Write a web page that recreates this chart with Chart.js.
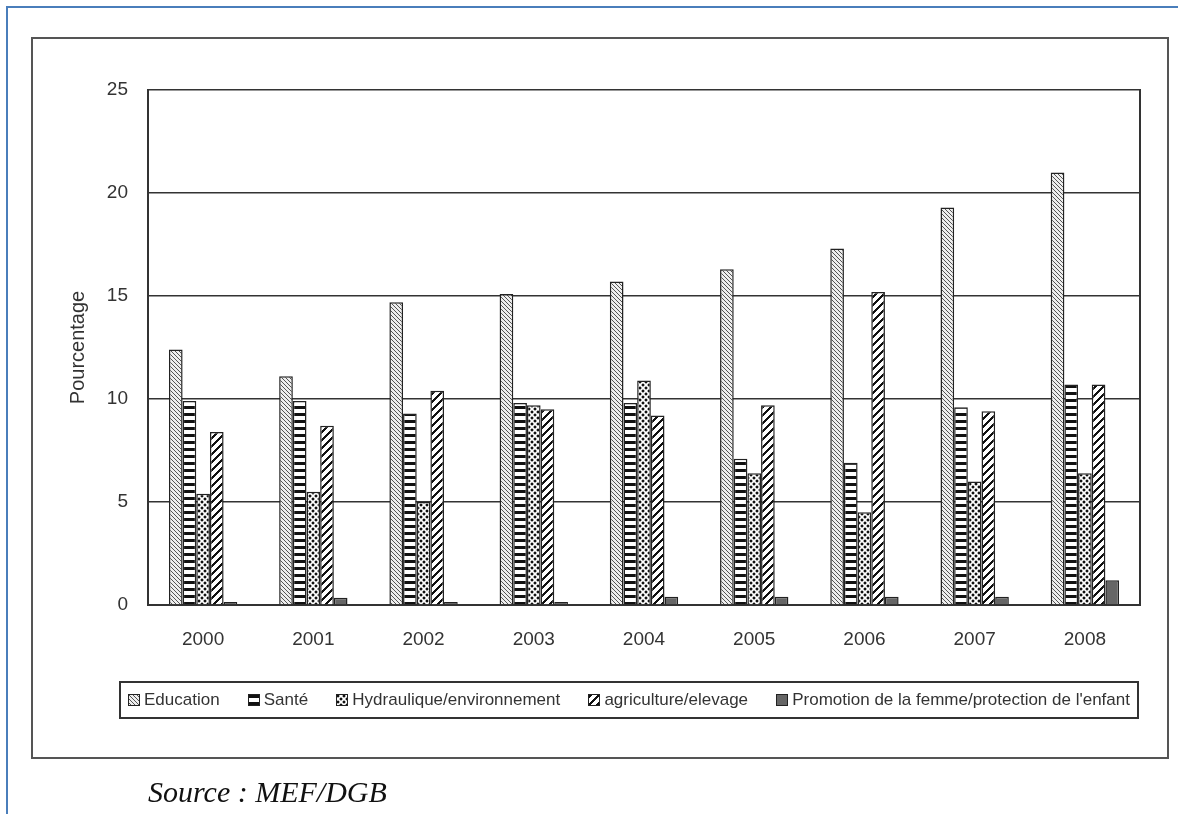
<!DOCTYPE html>
<html lang="fr">
<head>
<meta charset="utf-8">
<title>Dépenses sectorielles 2000-2008</title>
<script src="https://cdn.jsdelivr.net/npm/chart.js@4.4.1/dist/chart.umd.min.js"></script>
<style>
  html, body { margin: 0; padding: 0; background: #fff; }
  body { width: 1178px; height: 814px; position: relative; overflow: hidden; font-family: "Liberation Sans", Arial, sans-serif; }
  #page-rule { position: absolute; left: 6px; top: 6px; right: -4px; bottom: -4px; border-left: 2px solid #4a7ebb; border-top: 2px solid #4a7ebb; }
  #frame { position: absolute; left: 31px; top: 37px; width: 1134px; height: 718px; border: 2px solid #555; }
  #chart { position: absolute; left: 0; top: 0; }
  #legend { position: absolute; left: 119px; top: 681px; width: 1002px; height: 34px; border: 2px solid #333;
            display: flex; align-items: center; justify-content: space-between; padding: 0 7px 0 7px; box-sizing: content-box; }
  #legend .item { display: flex; align-items: center; white-space: nowrap; font-size: 17px; color: #333; }
  #legend .swatch { width: 10px; height: 10px; border: 1px solid #222; margin-right: 4px; background-repeat: repeat; }
  #source { position: absolute; left: 148px; top: 777px; font-family: "Liberation Serif", "Times New Roman", serif;
            font-style: italic; font-size: 30px; line-height: 30px; color: #111; }
</style>
</head>
<body>
<div id="page-rule"></div>
<div id="frame"></div>
<canvas id="chart" width="1178" height="814"></canvas>
<div id="legend"></div>
<div id="source">Source : MEF/DGB</div>
<script>
// Années et parts des dépenses par secteur (en pourcentage)
const annees = ['2000', '2001', '2002', '2003', '2004', '2005', '2006', '2007', '2008'];
const education   = [12.4, 11.1, 14.7, 15.1, 15.7, 16.3, 17.3, 19.3, 21.0];
const sante       = [9.9, 9.9, 9.3, 9.8, 9.8, 7.1, 6.9, 9.6, 10.7];
const hydraulique = [5.4, 5.5, 5.0, 9.7, 10.9, 6.4, 4.5, 6.0, 6.4];
const agriculture = [8.4, 8.7, 10.4, 9.5, 9.2, 9.7, 15.2, 9.4, 10.7];
const promotion   = [0.15, 0.35, 0.15, 0.15, 0.4, 0.4, 0.4, 0.4, 1.2];
const yTicks = [0, 5, 10, 15, 20, 25];
const seriesNames = ['Education', 'Santé', 'Hydraulique/environnement', 'agriculture/elevage',
                     'Promotion de la femme/protection de l\'enfant'];

// Small monochrome tiles used as bar fills
function makeTile(size, shade, light) {
  const c = document.createElement('canvas');
  c.width = size; c.height = size;
  const g = c.getContext('2d');
  g.fillStyle = light; g.fillRect(0, 0, size, size);
  for (let y = 0; y < size; y++)
    for (let x = 0; x < size; x++) {
      const col = shade(x, y);
      if (col) { g.fillStyle = col; g.fillRect(x, y, 1, 1); }
    }
  return c;
}
function dotShade(x, y) {
  // staggered round dots on a 6px lattice
  const dist = (cx, cy) => {
    const dx = Math.min(Math.abs(x - cx), 6 - Math.abs(x - cx));
    const dy = Math.min(Math.abs(y - cy), 6 - Math.abs(y - cy));
    return dx * dx + dy * dy;
  };
  const d = Math.min(dist(0.5, 0.5), dist(3.5, 3.5));
  if (d <= 0.6) return '#111';
  if (d <= 2.6) return '#b5b5b5';
  return null;
}
const tiles = [
  makeTile(4, (x, y) => (((x - y) % 4 + 4) % 4 === 0 ? '#555' : null), '#eeeeee'),   // fine back-diagonal
  makeTile(7, (x, y) => (y < 3 ? '#111' : null), '#fff'),                              // horizontal bands
  makeTile(6, dotShade, '#fff'),                                                       // dots
  makeTile(8, (x, y) => ((x + y) % 8 < 3 ? '#111' : null), '#fff'),                    // wide forward-diagonal
  makeTile(1, () => null, '#666')                                                      // solid grey
];

const canvas = document.getElementById('chart');
const ctx = canvas.getContext('2d');
const fills = tiles.map(t => ctx.createPattern(t, 'repeat'));
const values = [education, sante, hydraulique, agriculture, promotion];

// Right edge of the plotting frame
const plotFrame = {
  id: 'plotFrame',
  afterDatasetsDraw(chart) {
    const { ctx: c, chartArea: a } = chart;
    c.save();
    c.strokeStyle = '#333';
    c.lineWidth = 2;
    c.beginPath();
    c.moveTo(a.right, a.top - 1);
    c.lineTo(a.right, a.bottom + 1);
    c.stroke();
    c.restore();
  }
};

const chart = new Chart(ctx, {
  type: 'bar',
  data: {
    labels: annees,
    datasets: values.map((v, i) => ({
      label: seriesNames[i],
      data: v,
      backgroundColor: fills[i],
      borderColor: '#222',
      borderWidth: 1.5,
      categoryPercentage: 0.62,
      barPercentage: 1.0
    }))
  },
  options: {
    responsive: false,
    animation: false,
    devicePixelRatio: 1,
    layout: { padding: { left: 66, right: 38, top: 90, bottom: 164 } },
    plugins: { legend: { display: false }, tooltip: { enabled: false } },
    scales: {
      x: {
        grid: { display: false, drawTicks: false },
        border: { display: true, color: '#333', width: 2 },
        ticks: { color: '#333', font: { family: 'Liberation Sans', size: 19 }, padding: 23, maxRotation: 0 },
        afterFit(scale) { scale.height = 45; }
      },
      y: {
        min: 0, max: 25,
        afterBuildTicks(scale) { scale.ticks = yTicks.map(v => ({ value: v })); },
        grid: { color: '#333', lineWidth: 1.5, drawTicks: false },
        border: { display: true, color: '#333', width: 2 },
        ticks: { color: '#333', font: { family: 'Liberation Sans', size: 19 }, padding: 20 },
        title: { display: true, text: 'Pourcentage', color: '#333',
                 font: { family: 'Liberation Sans', size: 20 }, padding: 0 },
        afterFit(scale) { scale.width = 82; }
      }
    }
  },
  plugins: [plotFrame]
});

// Legend row built from the same series names and fills
const legend = document.getElementById('legend');
seriesNames.forEach((name, i) => {
  const item = document.createElement('div');
  item.className = 'item';
  const sw = document.createElement('span');
  sw.className = 'swatch';
  sw.style.backgroundImage = 'url(' + tiles[i].toDataURL() + ')';
  const tx = document.createElement('span');
  tx.textContent = name;
  item.appendChild(sw);
  item.appendChild(tx);
  legend.appendChild(item);
});
</script>
</body>
</html>
